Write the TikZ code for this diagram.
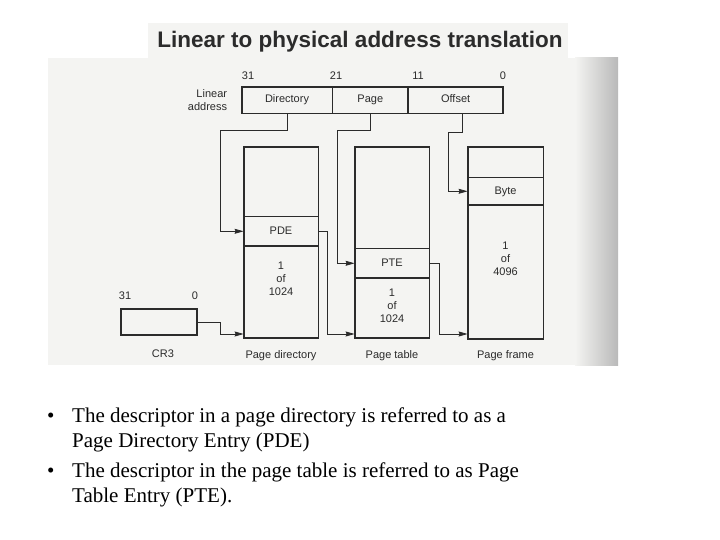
\documentclass[tikz,border=0pt]{standalone}
\usepackage{fontspec}
\setmainfont{Liberation Serif}
\setsansfont{Liberation Sans}
\usetikzlibrary{arrows.meta,positioning}
\definecolor{ink}{HTML}{2B2B2B}
\definecolor{scan}{HTML}{F4F4F2}

\begin{document}
\begin{tikzpicture}[x=1pt, y=-1pt,
  cell/.style={draw=ink, line width=0.8pt, inner sep=0pt, minimum width=74pt,
               text height=8pt, text depth=2.5pt,
               font=\sffamily\fontsize{11}{13}\selectfont, text=ink, align=center},
  field/.style={cell, minimum height=26pt},
  frame/.style={draw=ink, line width=1.6pt},
  bit/.style={font=\sffamily\fontsize{11}{13}\selectfont, text=ink},
  count/.style={bit, align=center, inner sep=0pt},
  caption/.style={font=\sffamily\fontsize{11}{13}\selectfont, text=ink},
  link/.style={draw=ink, line width=0.8pt, -{Stealth[length=9pt,width=5pt,inset=1pt]}},
  line/.style={font=\fontsize{21}{25}\selectfont, align=left, inner sep=0pt, anchor=base west},
]
  \useasboundingbox (0,0) rectangle (720,540);

  % scanned page
  \fill[scan] (48,58) rectangle (618,365);
  \fill[scan] (148,23) rectangle (568,58);
  \shade[left color=scan, right color=gray!55] (575,58) rectangle (618,365);

  \node[font=\sffamily\bfseries\fontsize{22.5}{26}\selectfont, text=ink] (title) at (360,42)
    {Linear to physical address translation};

  % linear address
  \node[field, minimum width=90pt] (dir) at (287,100) {Directory};
  \node[field, minimum width=75pt, right=0pt of dir] (page) {Page};
  \node[field, minimum width=94pt, right=0pt of page] (offset) {Offset};
  \draw[frame] (dir.north west) rectangle (offset.south east);
  \node[bit, left=11pt of dir, align=right] (linaddr) {Linear\\address};
  \node[bit] (b31) at (248,76) {31};
  \node[bit] (b21) at (336,76) {21};
  \node[bit] (b11) at (418,76) {11};
  \node[bit] (b0) at (503,76) {0};

  % page directory
  \node[cell, minimum height=69pt] (pdtop) at (281,181.5) {};
  \node[cell, minimum height=29pt, below=0pt of pdtop] (pde) {PDE};
  \node[cell, minimum height=91pt, below=0pt of pde] (pdrest) {};
  \draw[frame] (pdtop.north west) rectangle (pdrest.south east);
  \node[count] (pdcount) at (281,279) {1\\of\\1024};

  % page table
  \node[cell, minimum height=101pt] (pttop) at (392,197.5) {};
  \node[cell, minimum height=29pt, below=0pt of pttop] (pte) {PTE};
  \node[cell, minimum height=59pt, below=0pt of pte] (ptrest) {};
  \draw[frame] (pttop.north west) rectangle (ptrest.south east);
  \node[count] (ptcount) at (392,305.5) {1\\of\\1024};

  % page frame
  \node[cell, minimum width=75pt, minimum height=30pt] (pftop) at (505.5,162) {};
  \node[cell, minimum width=75pt, minimum height=27pt, below=0pt of pftop] (byte) {Byte};
  \node[cell, minimum width=75pt, minimum height=133pt, below=0pt of byte] (pfrest) {};
  \draw[frame] (pftop.north west) rectangle (pfrest.south east);
  \node[count] (pfcount) at (505.5,259) {1\\of\\4096};

  % CR3
  \node[cell, minimum width=76pt, minimum height=26pt, frame] (cr3) at (159,322) {};
  \node[bit] (c31) at (125,296) {31};
  \node[bit] (c0) at (195,296) {0};

  \node[caption, below=10pt of cr3, xshift=4pt] (lcr3) {CR3};
  \node[caption, below=9pt of pdrest] (lpd) {Page directory};
  \node[caption, below=9pt of ptrest] (lpt) {Page table};
  \node[caption, below=8pt of pfrest] (lpf) {Page frame};

  % bends
  \coordinate (k1) at (220,130);
  \coordinate (k2) at (337,130);
  \coordinate (k3) at (448,132);
  \coordinate (k4) at (220,334);
  \coordinate (k5) at (327,334);
  \coordinate (k6) at (439,334);

  \draw[link] (dir.south) |- (k1) |- (pde.west);
  \draw[link] (page.south) |- (k2) |- (pte.west);
  \draw[link] ([xshift=7pt]offset.south) |- (k3) |- (byte.west);
  \draw[link] (cr3.east) -| (k4) -- (k4 -| pdrest.west);
  \draw[link] (pde.east) -| (k5) -- (k5 -| ptrest.west);
  \draw[link] (pte.east) -| (k6) -- (k6 -| pfrest.west);

  % notes
  \node[line] (dot1) at (47,422) {\textbullet};
  \node[line] (note1) at (72,447)
    {The descriptor in a page directory is referred to as a\\Page Directory Entry (PDE)};
  \node[line] (dot2) at (47,477) {\textbullet};
  \node[line] (note2) at (72,502)
    {The descriptor in the page table is referred to as Page\\Table Entry (PTE).};
\end{tikzpicture}
\end{document}
